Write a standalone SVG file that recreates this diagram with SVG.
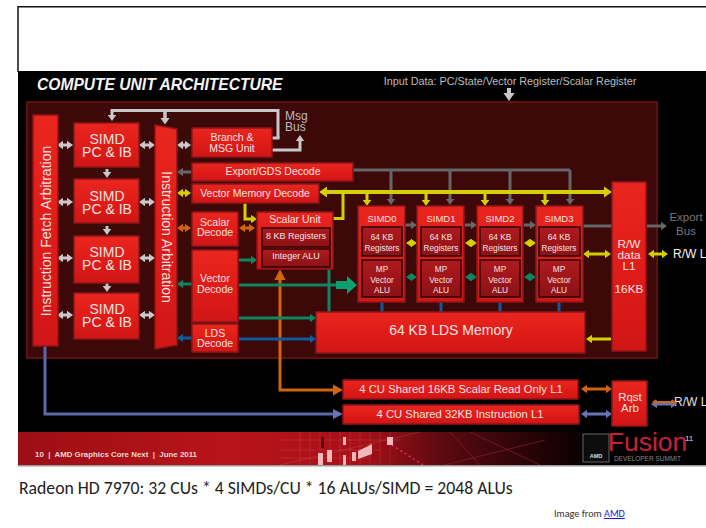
<svg xmlns="http://www.w3.org/2000/svg" width="706" height="528" viewBox="0 0 706 528">
<defs>
<linearGradient id="band" x1="0" y1="0" x2="1" y2="0"><stop offset="0" stop-color="#9c0e14"/><stop offset="0.3" stop-color="#b8141a"/><stop offset="0.5" stop-color="#a81018"/><stop offset="0.62" stop-color="#5a0a10"/><stop offset="0.78" stop-color="#1a0204"/><stop offset="0.84" stop-color="#000"/></linearGradient>
<linearGradient id="red" x1="0" y1="0" x2="0" y2="1"><stop offset="0" stop-color="#e8261e"/><stop offset="0.5" stop-color="#e01c18"/><stop offset="1" stop-color="#d01616"/></linearGradient>
<linearGradient id="dark" x1="0" y1="0" x2="0" y2="1"><stop offset="0" stop-color="#b01a1e"/><stop offset="1" stop-color="#8a1216"/></linearGradient>
<marker id="g" markerWidth="2" markerHeight="2.8" refX="1" refY="1.4" orient="auto-start-reverse"><path d="M0 0L2 1.4L0 2.8Z" fill="#c8c8c8"/></marker>
<marker id="dg" markerWidth="2" markerHeight="2.8" refX="1" refY="1.4" orient="auto-start-reverse"><path d="M0 0L2 1.4L0 2.8Z" fill="#666"/></marker>
<marker id="y" markerWidth="2" markerHeight="2.8" refX="1" refY="1.4" orient="auto-start-reverse"><path d="M0 0L2 1.4L0 2.8Z" fill="#d4d000"/></marker>
<marker id="o" markerWidth="2" markerHeight="2.8" refX="1" refY="1.4" orient="auto-start-reverse"><path d="M0 0L2 1.4L0 2.8Z" fill="#d0640f"/></marker>
<marker id="t" markerWidth="2" markerHeight="2.8" refX="1" refY="1.4" orient="auto-start-reverse"><path d="M0 0L2 1.4L0 2.8Z" fill="#0b8660"/></marker>
<marker id="b" markerWidth="2" markerHeight="2.8" refX="1" refY="1.4" orient="auto-start-reverse"><path d="M0 0L2 1.4L0 2.8Z" fill="#0f5a9c"/></marker>
<marker id="p" markerWidth="2" markerHeight="2.8" refX="1" refY="1.4" orient="auto-start-reverse"><path d="M0 0L2 1.4L0 2.8Z" fill="#6674b4"/></marker>
</defs>
<style>
.n{fill:url(#red);stroke:#8e1418;stroke-width:1.5}
.i{fill:url(#dark);stroke:#2a0406;stroke-width:1.5}
text{font-family:"Liberation Sans",Arial,sans-serif;fill:#f6e2e0;text-anchor:middle}
</style>
<rect x="0" y="0" width="706" height="528" fill="#fff"/>
<path d="M706 6.7H18V72" fill="none" stroke="#111" stroke-width="1.5"/>
<rect x="18" y="71" width="688" height="394" fill="#000"/>
<rect x="27" y="102" width="630" height="256" fill="#3c0808" stroke="#5c1010" stroke-width="2"/>
<rect x="18" y="432" width="688" height="33" fill="url(#band)"/>
<g id="band-art">
<path d="M280 465L420 432M300 432V465M310 432V465M320 432V465M330 432V465M340 432V465M350 432V465M360 432V465M370 432V465M380 432V465M390 432V465M280 440H400M280 450H380M280 458H370" stroke="#e06a70" stroke-width="0.6" opacity="0.4" fill="none"/>
<path d="M392 445L423 465" stroke="#e0306a" stroke-width="1.5" stroke-dasharray="2 3" fill="none"/>
<path d="M450 432L480 465M445 465L545 440M470 432L540 465" stroke="#80203c" stroke-width="0.7" fill="none"/>
<g fill="#f0b8b8"><rect x="318" y="453" width="5" height="12"/><rect x="327" y="450" width="5" height="12"/><rect x="343" y="437" width="3" height="8"/><rect x="343" y="455" width="3" height="10"/><rect x="352" y="452" width="4" height="9"/><path d="M358 451L372 444V454L358 459Z"/><rect x="387" y="437" width="6" height="8"/></g>
<rect x="321" y="437" width="3" height="11" fill="#5a0a10"/>
</g>
<rect x="18" y="465" width="688" height="1.5" fill="#999"/>
<text x="37" y="90" font-size="15.6" font-weight="bold" font-style="italic" style="fill:#f4f4f4;text-anchor:start">COMPUTE UNIT ARCHITECTURE</text>
<text x="510" y="85" font-size="10.8" style="fill:#bdbdbd">Input Data: PC/State/Vector Register/Scalar Register</text>
<text x="285" y="120" font-size="12" style="fill:#bdbdbd;text-anchor:start">Msg</text>
<text x="285" y="131" font-size="12" style="fill:#bdbdbd;text-anchor:start">Bus</text>
<text x="686" y="221" font-size="11.5" style="fill:#777">Export</text>
<text x="686" y="235" font-size="11.5" style="fill:#777">Bus</text>
<text x="673" y="258" font-size="12" style="fill:#f4f4f4;text-anchor:start">R/W L</text>
<text x="674" y="406" font-size="12" style="fill:#e0e0e0;text-anchor:start">R/W L</text>
<text x="35" y="457" font-size="7.9" font-weight="bold" xml:space="preserve" style="fill:#f0d8d8;text-anchor:start">10  |  AMD Graphics Core Next  |  June 2011</text>
<g id="amd-logo"><rect x="583" y="434" width="26" height="28" fill="#0c0c0c" stroke="#666"/><text x="596" y="458" font-size="5.5" font-weight="bold" style="fill:#ddd">AMD</text></g>
<text x="647.5" y="451" font-size="26.5" style="fill:#c8203a">Fusion</text>
<text x="685" y="441" font-size="8" style="fill:#ddd;text-anchor:start">11</text>
<text x="647.5" y="461" font-size="6.5" style="fill:#888">DEVELOPER SUMMIT</text>
<text x="19" y="494" font-size="17.7" style="font-family:'Carlito','Lato','Liberation Sans',sans-serif;fill:#222;text-anchor:start">Radeon HD 7970: 32 CUs * 4 SIMDs/CU * 16 ALUs/SIMD = 2048 ALUs</text>
<text x="554" y="517" font-size="10.2" style="font-family:'Carlito','Open Sans','Liberation Sans',sans-serif;fill:#333;text-anchor:start">Image from <tspan style="fill:#1a1ae0;text-decoration:underline">AMD</tspan></text>

<g id="connectors" fill="none" stroke-width="3">
<g stroke="#c8c8c8">
<path d="M278 138V110.500H112V118" marker-end="url(#g)"/>
<path d="M165 110.500V121" marker-end="url(#g)" stroke-width="3.500"/>
<path d="M272 138H279.500"/>
<path d="M272 150H300V138" marker-end="url(#g)"/>
<path d="M509 88V97" marker-end="url(#g)" stroke-width="4"/>
<path d="M60 145H70" marker-start="url(#g)" marker-end="url(#g)"/><path d="M60 202H70" marker-start="url(#g)" marker-end="url(#g)"/><path d="M60 258H70" marker-start="url(#g)" marker-end="url(#g)"/><path d="M60 315H70" marker-start="url(#g)" marker-end="url(#g)"/>
<path d="M142 145H152" marker-start="url(#g)" marker-end="url(#g)"/><path d="M142 202H152" marker-start="url(#g)" marker-end="url(#g)"/><path d="M142 258H152" marker-start="url(#g)" marker-end="url(#g)"/><path d="M142 315H152" marker-start="url(#g)" marker-end="url(#g)"/>
<path d="M180 145H188" marker-start="url(#g)" marker-end="url(#g)"/>
<path d="M107 169V175" marker-end="url(#g)"/><path d="M107 226V232" marker-end="url(#g)"/><path d="M107 283V289" marker-end="url(#g)"/>
</g>
<g stroke="#666">
<path d="M191 172H180" marker-end="url(#dg)"/>
<path d="M353 170H570"/>
<path d="M391 170V202" marker-end="url(#dg)"/><path d="M450 170V202" marker-end="url(#dg)"/><path d="M510 170V202" marker-end="url(#dg)"/><path d="M570 170V202" marker-end="url(#dg)"/>
<path d="M405 225H414" marker-end="url(#dg)"/><path d="M465 225H474" marker-end="url(#dg)"/><path d="M524 225H533" marker-end="url(#dg)"/>
<path d="M583 226H612"/><path d="M647 226H664" marker-end="url(#dg)"/>
</g>
<g stroke="#d4d000">
<path d="M180 193H188" marker-start="url(#y)" marker-end="url(#y)"/>
<path d="M323 192H608" marker-start="url(#y)" marker-end="url(#y)" stroke-width="4"/>
<path d="M343 192V218.500H333"/>
<path d="M245 203V219H254" marker-end="url(#y)"/>
<path d="M367 194V203" marker-end="url(#y)"/><path d="M426 194V203" marker-end="url(#y)"/><path d="M485 194V203" marker-end="url(#y)"/><path d="M545 194V203" marker-end="url(#y)"/>
<path d="M409 243H414" marker-start="url(#y)" marker-end="url(#y)"/><path d="M468 243H474" marker-start="url(#y)" marker-end="url(#y)"/><path d="M527 243H533" marker-start="url(#y)" marker-end="url(#y)"/>
<path d="M586 254H608" marker-start="url(#y)" marker-end="url(#y)"/><path d="M651 254H665" marker-start="url(#y)" marker-end="url(#y)"/>
<path d="M611 339H589" marker-end="url(#y)"/>
</g>
<g stroke="#d0640f">
<path d="M180 228H188" marker-start="url(#o)" marker-end="url(#o)"/>
<path d="M242 228H252" marker-start="url(#o)" marker-end="url(#o)"/>
<path d="M280 280V390H334"/>
<path d="M584 389H609" marker-start="url(#o)" marker-end="url(#o)"/>
</g>
<g stroke="#0b8660">
<path d="M180 284H192" marker-start="url(#t)"/>
<path d="M239 260H254" marker-end="url(#t)"/>
<path d="M239 285H342"/>
<path d="M329 269V312"/>
<path d="M239 318H313" marker-end="url(#t)"/>
<path d="M409 277H414" marker-start="url(#t)" marker-end="url(#t)"/><path d="M468 277H474" marker-start="url(#t)" marker-end="url(#t)"/><path d="M527 277H533" marker-start="url(#t)" marker-end="url(#t)"/>
</g>
<g stroke="#0f5a9c">
<path d="M180 338H192" marker-start="url(#b)"/>
<path d="M239 339H313" marker-end="url(#b)"/>
<path d="M382 302V312"/><path d="M441 302V312"/><path d="M500 302V312"/><path d="M559 302V312"/>
</g>
<g stroke="#5a68a8">
<path d="M45 346V414H334"/>
</g>
<g stroke="#6674b4">
<path d="M584 414H609" marker-start="url(#p)" marker-end="url(#p)"/>
<path d="M654 404H674" marker-start="url(#p)" marker-end="url(#p)"/>
</g>
<path d="M654 402H674" stroke="#d0640f" stroke-width="2" marker-start="url(#o)" marker-end="url(#o)"/>
<g stroke="none">
<path d="M280 269L285.500 280H274.500Z" fill="#d0640f"/>
<path d="M343 390L333 384.500V395.500Z" fill="#d0640f"/>
<path d="M343 414L333 409V419Z" fill="#6674b4"/>
<path d="M357 285L347 276V281H336V289H347V294Z" fill="#0aa070"/>
</g>
</g>

<g id="fetch-arb"><rect class="n" x="33" y="115" width="25" height="231"/><text transform="translate(51 231) rotate(-90)" font-size="14">Instruction Fetch Arbitration</text></g>
<g id="simd-pc-0"><rect class="n" x="74" y="123" width="65" height="44"/><text x="107" y="144" font-size="14">SIMD</text><text x="107" y="157" font-size="14">PC &amp; IB</text></g>
<g id="simd-pc-1"><rect class="n" x="74" y="179" width="65" height="44"/><text x="107" y="201" font-size="14">SIMD</text><text x="107" y="214" font-size="14">PC &amp; IB</text></g>
<g id="simd-pc-2"><rect class="n" x="74" y="236" width="65" height="47"/><text x="107" y="257" font-size="14">SIMD</text><text x="107" y="270" font-size="14">PC &amp; IB</text></g>
<g id="simd-pc-3"><rect class="n" x="74" y="293" width="65" height="46"/><text x="107" y="314" font-size="14">SIMD</text><text x="107" y="327" font-size="14">PC &amp; IB</text></g>
<g id="instr-arb"><path class="n" d="M155 125L177 129V345L155 349Z"/><text transform="translate(162 237) rotate(90)" font-size="14">Instruction Arbitration</text></g>
<g id="branch"><rect class="n" x="192" y="128" width="80" height="29"/><text x="232" y="141" font-size="10.5">Branch &amp;</text><text x="232" y="152" font-size="10.5">MSG Unit</text></g>
<g id="export"><rect class="n" x="192" y="163" width="161" height="18"/><text x="273" y="175" font-size="10.5">Export/GDS Decode</text></g>
<g id="vmem"><rect class="n" x="192" y="184" width="127" height="19"/><text x="255" y="197" font-size="10.5">Vector Memory Decode</text></g>
<g id="scalar-dec"><rect class="n" x="192" y="212" width="46" height="34"/><text x="215" y="226" font-size="10.5">Scalar</text><text x="215" y="236" font-size="10.5">Decode</text></g>
<g id="vector-dec"><rect class="n" x="192" y="250" width="46" height="72"/><text x="215" y="282" font-size="10.5">Vector</text><text x="215" y="293" font-size="10.5">Decode</text></g>
<g id="lds-dec"><rect class="n" x="192" y="324" width="46" height="28"/><text x="215" y="337" font-size="10.5">LDS</text><text x="215" y="347" font-size="10.5">Decode</text></g>
<g id="scalar-unit"><rect class="n" x="257" y="212" width="76" height="57"/><text x="295" y="223" font-size="10.5">Scalar Unit</text><rect class="i" x="262" y="228" width="68" height="19"/><text x="296" y="239" font-size="9">8 KB Registers</text><rect class="i" x="262" y="249" width="68" height="18"/><text x="296" y="259" font-size="9">Integer ALU</text></g>
<g id="simd0"><rect class="n" x="358" y="206" width="47" height="96"/><text x="382" y="222" font-size="9.5">SIMD0</text><rect class="i" x="362" y="227" width="40" height="29"/><text x="382" y="240" font-size="8.3">64 KB</text><text x="382" y="251" font-size="8.3">Registers</text><rect class="i" x="362" y="260" width="40" height="37"/><text x="382" y="272" font-size="8.3">MP</text><text x="382" y="283" font-size="8.3">Vector</text><text x="382" y="293" font-size="8.3">ALU</text></g>
<g id="simd1"><rect class="n" x="417" y="206" width="47" height="96"/><text x="441" y="222" font-size="9.5">SIMD1</text><rect class="i" x="421" y="227" width="40" height="29"/><text x="441" y="240" font-size="8.3">64 KB</text><text x="441" y="251" font-size="8.3">Registers</text><rect class="i" x="421" y="260" width="40" height="37"/><text x="441" y="272" font-size="8.3">MP</text><text x="441" y="283" font-size="8.3">Vector</text><text x="441" y="293" font-size="8.3">ALU</text></g>
<g id="simd2"><rect class="n" x="477" y="206" width="46" height="96"/><text x="500" y="222" font-size="9.5">SIMD2</text><rect class="i" x="480" y="227" width="40" height="29"/><text x="500" y="240" font-size="8.3">64 KB</text><text x="500" y="251" font-size="8.3">Registers</text><rect class="i" x="480" y="260" width="40" height="37"/><text x="500" y="272" font-size="8.3">MP</text><text x="500" y="283" font-size="8.3">Vector</text><text x="500" y="293" font-size="8.3">ALU</text></g>
<g id="simd3"><rect class="n" x="536" y="206" width="47" height="96"/><text x="559" y="222" font-size="9.5">SIMD3</text><rect class="i" x="539" y="227" width="41" height="29"/><text x="559" y="240" font-size="8.3">64 KB</text><text x="559" y="251" font-size="8.3">Registers</text><rect class="i" x="539" y="260" width="41" height="37"/><text x="559" y="272" font-size="8.3">MP</text><text x="559" y="283" font-size="8.3">Vector</text><text x="559" y="293" font-size="8.3">ALU</text></g>
<g id="lds-mem"><rect class="n" x="316" y="312" width="269" height="41"/><text x="451" y="335" font-size="14">64 KB LDS Memory</text></g>
<g id="rw"><rect class="n" x="612" y="182" width="34" height="169"/><text x="629" y="248" font-size="11.8">R/W</text><text x="629" y="259" font-size="11.8">data</text><text x="629" y="270" font-size="11.8">L1</text><text x="629" y="293" font-size="11.8">16KB</text></g>
<g id="scalar-l1"><rect class="n" x="343" y="380" width="235" height="19"/><text x="461" y="393" font-size="11.3">4 CU Shared 16KB Scalar Read Only L1</text></g>
<g id="instr-l1"><rect class="n" x="343" y="405" width="236" height="19"/><text x="460" y="418" font-size="11.3">4 CU Shared 32KB Instruction L1</text></g>
<g id="rqst"><rect class="n" x="612" y="381" width="35" height="45"/><text x="630" y="401" font-size="11.5">Rqst</text><text x="630" y="412" font-size="11.5">Arb</text></g>
</svg>
